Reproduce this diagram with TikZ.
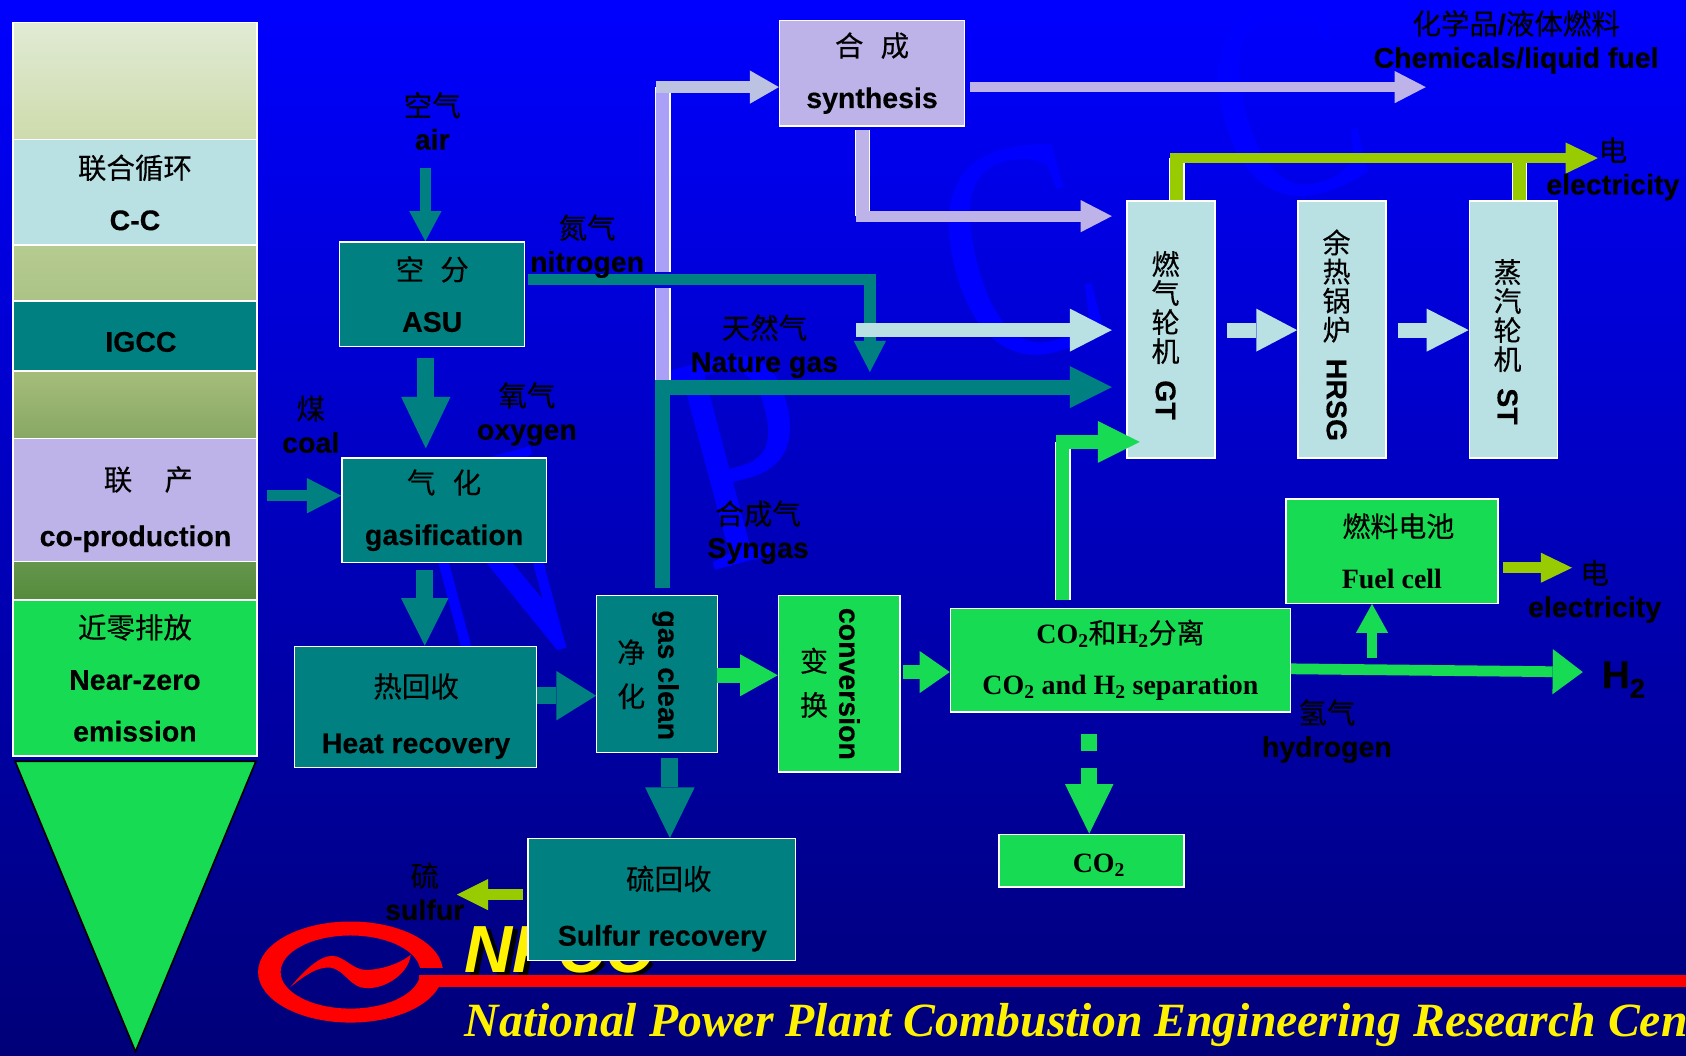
\documentclass[tikz,border=0pt]{standalone}
\usepackage{fontspec}
\setmainfont{Liberation Sans}[BoldFeatures={FakeBold=0.3}]
\newfontfamily\cjk{Noto Sans CJK SC}[BoldFont={Noto Sans CJK SC},FakeBold=0.3]
\newfontfamily\timesfont{Liberation Serif}
\usetikzlibrary{arrows.meta,positioning,calc}
\definecolor{plantteal}{RGB}{0,128,128}
\definecolor{plantgreen}{RGB}{23,219,83}
\definecolor{plantlav}{RGB}{189,179,232}
\definecolor{plantpale}{RGB}{185,224,227}
\definecolor{plantlime}{RGB}{153,204,0}
\definecolor{pipelav}{RGB}{170,160,248}
\definecolor{inletlav}{RGB}{187,194,226}
\definecolor{logogap}{RGB}{0,0,135}

\begin{document}
\begin{tikzpicture}[
  x=1pt,y=-1pt,
  box/.style={draw=white,line width=1.3pt,inner sep=0pt,align=center,text=black,
              font=\fontsize{26.5}{48}\selectfont\bfseries},
  serifbox/.style={box,font=\fontsize{26}{48}\selectfont\bfseries\timesfont},
  lowtext/.style={execute at begin node={\rule{0pt}{#1}}},
  lbl/.style={inner sep=0pt,align=center,text=black,
              font=\fontsize{26.5}{31}\selectfont\bfseries},
  widelbl/.style={lbl,font=\fontsize{26.5}{52}\selectfont\bfseries},
  sidetext/.style={lbl,rotate=-90},
  stacktext/.style={lbl,font=\fontsize{26}{#1}\selectfont},
  flow/.style n args={4}{draw=#1,line width=#2pt,
              -{Triangle[length=#3pt,width=#4pt,line width=0pt]}},
  pipe/.style 2 args={draw=white,line width=1.2pt,double=#1,double distance=#2pt},
  wmark/.style={inner sep=0pt,text=blue,rotate=15,
              font=\fontsize{290}{290}\selectfont\timesfont}
]
  % background
  \shade[top color=blue,bottom color=blue!47!black] (0,0) rectangle (1568,982);
  \useasboundingbox (0,0) rectangle (1568,982);
  \node[wmark] (wmarkn) at (456,524) {\scalebox{.65}[1]{N}};
  \node[wmark] (wmarkp) at (692,425) {\scalebox{.75}[1]{P}};
  \node[wmark] (wmarkc) at (948,236) {\scalebox{.72}[1]{C}};
  \node[wmark,font=\fontsize{270}{270}\selectfont\timesfont] (wmarkd) at (1197,95) {\scalebox{.76}[1]{C}};

  % logo and banner
  \node[anchor=base west,inner sep=0pt,text=black,font=\fontsize{62}{62}\selectfont\bfseries\itshape] (npccshadow) at (436,907) {NPCC};
  \node[anchor=base west,inner sep=0pt,text=yellow,font=\fontsize{62}{62}\selectfont\bfseries\itshape] (npcc) at (432,904) {NPCC};
  \fill[red,even odd rule] (326,904) ellipse [x radius=86,y radius=47] (326,904) ellipse [x radius=65,y radius=34];
  \fill[logogap] (385,900) rectangle (416,907);
  \fill[red] (270,918) .. controls (285,900) and (298,889) .. (309,889) .. controls (320,889) and (328,902) .. (340,902)
    .. controls (355,902) and (372,896) .. (382,888) .. controls (380,905) and (360,919) .. (342,919)
    .. controls (325,919) and (322,903) .. (308,900) .. controls (295,898) and (280,910) .. (270,918) -- cycle;
  \fill[red] (390,907) rectangle (1568,918);
  \node[anchor=base west,inner sep=0pt,text=yellow,font=\fontsize{44.4}{46}\selectfont\bfseries\itshape\timesfont] (banner) at (432,964) {National Power Plant Combustion Engineering Research Cen};

  % left column
  \node[box,minimum width=227pt,minimum height=109pt,top color={rgb,255:red,224;green,235;blue,212},bottom color={rgb,255:red,205;green,219;blue,172}] (topband) at (125.5,75.5) {};
  \node[box,minimum width=227pt,minimum height=98pt,fill=plantpale] (cc) at (125.5,179) {{\cjk 联合循环}\\C-C};
  \node[box,minimum width=227pt,minimum height=52pt,top color={rgb,255:red,181;green,203;blue,144},bottom color={rgb,255:red,172;green,195;blue,134}] (midband) at (125.5,254) {};
  \node[box,minimum width=227pt,minimum height=65pt,fill=plantteal] (igcc) at (125.5,312.5) {};
  \node[lbl] (igcclabel) at (131,318) {IGCC};
  \node[box,minimum width=227pt,minimum height=63pt,top color={rgb,255:red,166;green,189;blue,122},bottom color={rgb,255:red,135;green,168;blue,99}] (lowband) at (125.5,376.5) {};
  \node[box,minimum width=227pt,minimum height=114pt,fill=plantlav] (coprod) at (125.5,465) {};
  \node[widelbl] (coprodlabel) at (126,473.5) {\hspace{24pt}{\cjk 联\hspace{30pt}产}\\co-production};
  \node[box,minimum width=227pt,minimum height=36pt,top color={rgb,255:red,100;green,150;blue,75},bottom color={rgb,255:red,85;green,138;blue,60}] (baseband) at (125.5,540) {};
  \node[box,minimum width=227pt,minimum height=145pt,fill=plantgreen] (nearzero) at (125.5,630.5) {{\cjk 近零排放}\\Near-zero\\emission};
  \filldraw[draw=black,line width=1.5pt,fill=plantgreen] (14,708) -- (238,708) -- (126,978) -- cycle;

  % process blocks
  \node[box,minimum width=172pt,minimum height=97pt,fill=plantteal] (asu) at (402,273.5) {{\cjk 空\hspace{15pt}分}\\ASU};
  \node[box,lowtext=40pt,minimum width=190pt,minimum height=97pt,fill=plantteal] (gasifier) at (413,474.5) {{\cjk 气\hspace{16pt}化}\\gasification};
  \node[box,minimum width=225pt,minimum height=113pt,fill=plantteal] (heat) at (386.5,657.5) {};
  \node[widelbl] (heatlabel) at (387,666) {{\cjk 热回收}\\Heat recovery};
  \node[box,minimum width=112pt,minimum height=146pt,fill=plantteal] (clean) at (611,627) {};
  \node[stacktext=41] (cleanzh) at (587,627) {{\cjk 净}\\{\cjk 化}};
  \node[sidetext] (cleanen) at (619,628) {gas clean};
  \node[box,minimum width=113pt,minimum height=164pt,fill=plantgreen] (conv) at (780.5,636) {};
  \node[stacktext=41] (convzh) at (757,635) {{\cjk 变}\\{\cjk 换}};
  \node[sidetext] (conven) at (790,636) {conversion};
  \node[serifbox,lowtext=40pt,minimum width=316pt,minimum height=96pt,fill=plantgreen] (separator) at (1042,614) {CO\textsubscript{2}{\cjk 和}H\textsubscript{2}{\cjk 分离}\\CO\textsubscript{2} and H\textsubscript{2} separation};
  \node[serifbox,minimum width=197pt,minimum height=97pt,fill=plantgreen] (fuelcell) at (1294.5,512.5) {\hspace{12pt}{\cjk 燃料电池}\\Fuel cell};
  \node[serifbox,lowtext=26pt,minimum width=172pt,minimum height=49pt,fill=plantgreen] (co2) at (1015,800.5) {\hspace{14pt}CO\textsubscript{2}};
  \node[box,minimum width=249pt,minimum height=113pt,fill=plantteal] (sulfurrec) at (615.5,836.5) {};
  \node[widelbl] (sulfurlabel) at (616,845) {\hspace{12pt}{\cjk 硫回收}\\Sulfur recovery};
  \node[box,lowtext=40pt,minimum width=172pt,minimum height=98pt,fill=plantlav] (synthesis) at (811,68) {{\cjk 合\hspace{16pt}成}\\synthesis};

  % turbine train
  \node[box,minimum width=82pt,minimum height=239pt,fill=plantpale] (gt) at (1089,306.5) {};
  \node[stacktext=27] (gtzh) at (1084,286) {{\cjk 燃}\\{\cjk 气}\\{\cjk 轮}\\{\cjk 机}};
  \node[sidetext] (gten) at (1084,372) {GT};
  \node[box,minimum width=82pt,minimum height=239pt,fill=plantpale] (hrsg) at (1248,306.5) {};
  \node[stacktext=27] (hrsgzh) at (1243,266) {{\cjk 余}\\{\cjk 热}\\{\cjk 锅}\\{\cjk 炉}};
  \node[sidetext] (hrsgen) at (1243,372) {HRSG};
  \node[box,minimum width=82pt,minimum height=239pt,fill=plantpale] (st) at (1407.5,306.5) {};
  \node[stacktext=27] (stzh) at (1402,293.5) {{\cjk 蒸}\\{\cjk 汽}\\{\cjk 轮}\\{\cjk 机}};
  \node[sidetext] (sten) at (1402,378) {ST};

  % free ends
  \coordinate (airin) at (395.6,156);
  \coordinate (o2from) at (396,333);
  \coordinate (o2to) at (396,417);
  \coordinate (coalin) at (248,461);
  \coordinate (gasout) at (395,530);
  \coordinate (heatout) at (499,647);
  \coordinate (cleandown) at (623,705);
  \coordinate (sulfurfrom) at (486,832);
  \coordinate (sulfurout) at (425,832);
  \coordinate (cleanout) at (667,628);
  \coordinate (convout) at (840,625);
  \coordinate (co2from) at (1013,683);
  \coordinate (h2out) at (1472,625);
  \coordinate (fcfrom) at (1276,612);
  \coordinate (fcout) at (1398,528);
  \coordinate (fcelec) at (1462,528);
  \coordinate (sepup) at (988.5,558);
  \coordinate (sepcorner) at (982,411);
  \coordinate (sepgt) at (1060,411);
  \coordinate (syncorner) at (609,360);
  \coordinate (syngt) at (1034,360);
  \coordinate (lavtop) at (616.5,81);
  \coordinate (lavgapa) at (616.5,253);
  \coordinate (lavgapb) at (616.5,268);
  \coordinate (lavlow) at (616.5,360);
  \coordinate (lavin) at (610,81);
  \coordinate (chemfrom) at (902,81);
  \coordinate (chemto) at (1326,81);
  \coordinate (syndown) at (802,121);
  \coordinate (synelbow) at (796,201);
  \coordinate (syndgt) at (1034,201);
  \coordinate (n2from) at (491,260);
  \coordinate (n2corner) at (809,260);
  \coordinate (n2to) at (809,346);
  \coordinate (ngfrom) at (796,307);
  \coordinate (ngto) at (1034,307);
  \coordinate (gtout) at (1141,307);
  \coordinate (hrsgout) at (1300,307);
  \coordinate (elecleft) at (1088,147);
  \coordinate (elecright) at (1486,147);

  % lavender streams
  \draw[pipe={pipelav}{12}] (lavtop) -- (lavgapa);
  \draw[pipe={pipelav}{12}] (lavgapb) -- (lavlow);
  \draw[flow={inletlav}{11}{27}{31}] (lavin) -- (synthesis.west |- lavin);
  \draw[flow={plantlav}{10}{29}{30}] (chemfrom) -- (chemto);
  \draw[pipe={plantlav}{12}] (syndown) -- (syndown |- synelbow);
  \draw[flow={plantlav}{10}{29}{30}] (synelbow) -- (syndgt);

  % teal streams
  \draw[flow={plantteal}{10}{28}{30}] (airin) -- (asu.north -| airin);
  \draw[flow={plantteal}{16}{48}{46}] (o2from) -- (o2to);
  \draw[flow={plantteal}{10.5}{32}{33}] (coalin) -- (gasifier.west |- coalin);
  \draw[flow={plantteal}{16}{44}{44}] (gasout) -- (heat.north -| gasout);
  \draw[flow={plantteal}{16}{37}{46}] (heatout) -- (clean.west |- heatout);
  \draw[flow={plantteal}{16}{47}{46}] (cleandown) -- (sulfurrec.north -| cleandown);
  \draw[flow={plantteal}{11}{29}{30}] (n2from) -- (n2corner) -- (n2to);
  \draw[draw=plantteal,line width=14pt] (616,547) -- (616,353);
  \draw[flow={plantteal}{14}{39}{39}] (syncorner) -- (syngt);
  \draw[flow={plantpale}{13}{39}{40}] (ngfrom) -- (ngto);

  % green streams
  \draw[flow={plantgreen}{14}{35}{39}] (cleanout) -- (conv.west |- cleanout);
  \draw[flow={plantgreen}{13}{28}{39}] (convout) -- (separator.west |- convout);
  \draw[flow={plantgreen}{15}{46}{45},dash pattern=on 15.5pt off 15.5pt on 60pt] (co2from) -- (co2.north -| co2from);
  \draw[flow={plantgreen}{10}{28}{42}] (separator.east |- 0,622) -- (h2out);
  \draw[flow={plantgreen}{10}{27}{30}] (fcfrom) -- (fuelcell.south -| fcfrom);
  \draw[pipe={plantgreen}{12}] (sepup) -- (sepup |- sepcorner);
  \draw[flow={plantgreen}{13.5}{39}{39}] (sepcorner) -- (sepgt);

  % pale and lime streams
  \draw[flow={plantpale}{14}{38}{40}] (gtout) -- (hrsg.west |- gtout);
  \draw[flow={plantpale}{14}{39}{40}] (hrsgout) -- (st.west |- hrsgout);
  \draw[pipe={plantlime}{12}] (gt.north -| 1094.5,0) -- (1094.5,147);
  \draw[pipe={plantlime}{12}] (st.north -| 1413,0) -- (1413,147);
  \draw[flow={plantlime}{10}{30}{29}] (elecleft) -- (elecright);
  \draw[flow={plantlime}{10}{29}{28}] (fcout) -- (fcelec);
  \draw[flow={plantlime}{10}{29}{29}] (sulfurfrom) -- (sulfurout);

  % stream labels
  \node[lbl] (airlabel) at (402,112.5) {{\cjk 空气}\\air};
  \node[lbl] (n2label) at (546,229) {{\cjk 氮气}\\nitrogen};
  \node[lbl] (o2label) at (490,385) {{\cjk 氧气}\\oxygen};
  \node[lbl] (coallabel) at (289,394.5) {{\cjk 煤}\\coal};
  \node[lbl] (nglabel) at (711,322) {{\cjk 天然气}\\Nature gas};
  \node[lbl] (syngaslabel) at (705,495) {{\cjk 合成气}\\Syngas};
  \node[lbl] (sulfurname) at (395,829) {{\cjk 硫}\\sulfur};
  \node[lbl] (h2label) at (1234,680) {{\cjk 氢气}\\hydrogen};
  \node[lbl] (elecname) at (1500,157) {{\cjk 电}\\electricity};
  \node[lbl] (fcelecname) at (1483,550) {{\cjk 电}\\electricity};
  \node[lbl] (chemlabel) at (1410,39) {{\cjk 化学品}/{\cjk 液体燃料}\\Chemicals/liquid fuel};
  \node[lbl,font=\fontsize{36}{36}\selectfont\bfseries] (h2name) at (1510,632) {H\textsubscript{2}};
\end{tikzpicture}
\end{document}
